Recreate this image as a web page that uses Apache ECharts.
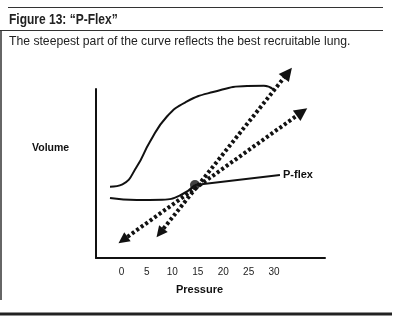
<!DOCTYPE html>
<html>
<head>
<meta charset="utf-8">
<script src="https://cdn.jsdelivr.net/npm/echarts@6/dist/echarts.min.js"></script>
<style>
html,body{margin:0;padding:0;background:#fff;}
#c{width:407px;height:328px;}
</style>
</head>
<body>
<div id="c"></div>
<script>
// Pressure tick labels
var pressureTicks = [0, 5, 10, 15, 20, 25, 30];
// Upper (inflation) curve: [pressure, volume]
var upperCurve = [[-2.25,42.2],[0.2,43.6],[3.0,54.0],[5.6,68.8],[8.9,83.6],[12.8,92.5],[18.0,98.2],[24.7,101.8],[28.0,101.9],[29.8,99.8]];
// Lower curve ending at the P-flex point
var lowerCurve = [[-2.25,35.5],[3.0,34.3],[8.0,34.5],[11.5,37.0],[14.45,43.2]];
// P-flex tangent line
var pflexLine = [[14.45,43.2],[31.15,49.1]];
var pflexPoint = [[14.45,43.2]];
// Dotted double-headed arrows
var steepArrow = [[7.57,14.8],[32.7,109.5]];
var shallowArrow = [[0.3,10.65],[35.47,86.4]];

var chart = echarts.init(document.getElementById('c'), null, {renderer:'canvas'});
var black = '#111';
chart.setOption({
  animation:false,
  backgroundColor:'#fff',
  grid:{left:96, right:82, top:89, bottom:70},
  xAxis:{
    type:'value', min:-5, max:40, interval:5,
    axisLine:{show:true, onZero:false, lineStyle:{color:black, width:2}},
    axisTick:{show:false},
    splitLine:{show:false},
    axisLabel:{
      margin:9, fontSize:10, color:'#222', fontFamily:'Liberation Sans',
      formatter:function(v){ return pressureTicks.indexOf(v) >= 0 ? String(v) : ''; }
    }
  },
  yAxis:{
    type:'value', min:0, max:100,
    axisLine:{show:true, onZero:false, lineStyle:{color:black, width:2}},
    axisTick:{show:false},
    splitLine:{show:false},
    axisLabel:{show:false}
  },
  graphic:[
    {type:'line', shape:{x1:8,y1:7.5,x2:383,y2:7.5}, style:{stroke:'#333', lineWidth:1.2}},
    {type:'text', x:9, y:12, scaleX:0.8, style:{text:'Figure 13: \u201cP-Flex\u201d', font:'bold 15px "Liberation Sans", sans-serif', fill:'#222'}},
    {type:'line', shape:{x1:0,y1:30.5,x2:383,y2:30.5}, style:{stroke:'#333', lineWidth:1.2}},
    {type:'text', left:9, top:36, style:{text:'The steepest part of the curve reflects the best recruitable lung.', font:'12.2px "Liberation Sans", sans-serif', fill:'#222'}},
    {type:'line', shape:{x1:1,y1:30,x2:1,y2:300}, style:{stroke:'#333', lineWidth:1.5}},
    {type:'line', shape:{x1:0,y1:314,x2:392,y2:314}, style:{stroke:'#222', lineWidth:3}},
    {type:'text', left:32, top:143, style:{text:'Volume', font:'bold 10.5px "Liberation Sans", sans-serif', fill:'#111'}},
    {type:'text', left:176, top:284, style:{text:'Pressure', font:'bold 11px "Liberation Sans", sans-serif', fill:'#111'}}
  ],
  series:[
    {type:'line', data:upperCurve, smooth:0.5, showSymbol:false, clip:false,
     lineStyle:{color:black, width:2}},
    {type:'line', data:lowerCurve, smooth:0.5, showSymbol:false, clip:false,
     lineStyle:{color:black, width:2}},
    {type:'line', data:pflexLine, showSymbol:false, clip:false,
     lineStyle:{color:black, width:2},
     endLabel:{show:true, formatter:'P-flex', fontSize:11, fontWeight:'bold', color:'#111', fontFamily:'Liberation Sans', distance:3}},
    {type:'lines', coordinateSystem:'cartesian2d', clip:false,
     symbol:['triangle','triangle'], symbolSize:[11,13],
     lineStyle:{color:black, width:4, type:[3,2.5], opacity:1},
     itemStyle:{color:black},
     data:[{coords:steepArrow},{coords:shallowArrow}]},
    {type:'scatter', data:pflexPoint, symbolSize:10, itemStyle:{color:black}, clip:false, z:5}
  ]
});
</script>
</body>
</html>
